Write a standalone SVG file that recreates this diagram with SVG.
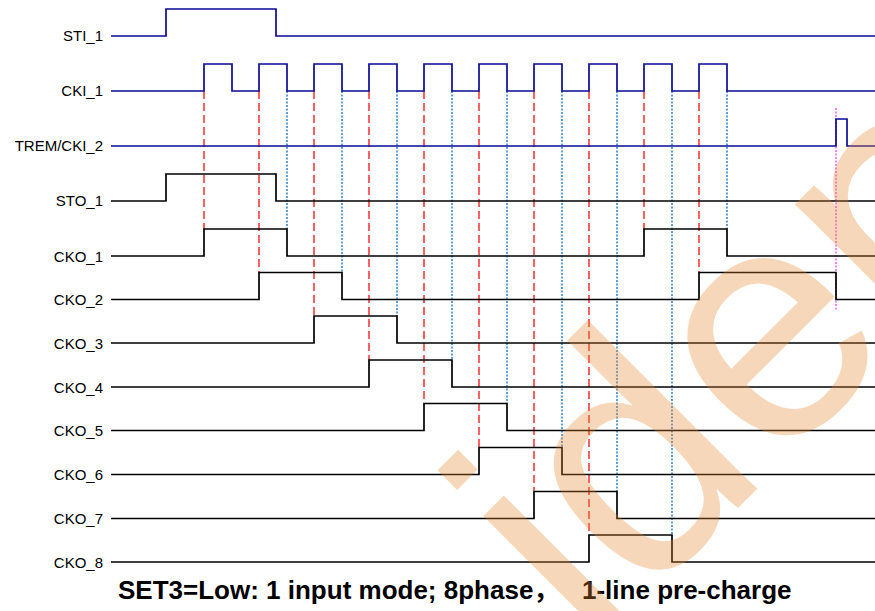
<svg xmlns="http://www.w3.org/2000/svg" width="875" height="611" viewBox="0 0 875 611">
<style>
.lbl{font-family:"Liberation Sans",Arial,sans-serif;font-size:15px;fill:#000;text-anchor:end}
.bsig{fill:none;stroke:#0A0A96;stroke-width:1.7}
.ksig{fill:none;stroke:#000;stroke-width:1.7}
.red{fill:none;stroke:#FF2020;stroke-width:1.4;stroke-dasharray:8 4}
.dot{fill:none;stroke:#1E78C8;stroke-width:1.4;stroke-dasharray:2 1.5}
.mag{fill:none;stroke:#FF66FF;stroke-width:1.6;stroke-dasharray:2 1.5}
.title{font-family:"Liberation Sans",Arial,"Noto Sans CJK SC",sans-serif;font-size:26px;font-weight:bold;fill:#000}
.wm{font-family:"Liberation Sans",Arial,sans-serif;font-size:330px;fill:#E8862A;opacity:0.32}
</style>
<rect width="875" height="611" fill="#fff"/>
<g id="connectors">
<path class="red" d="M204 91V229M259 91V273M314 91V316M369 91V360M424 91V403M479 91V447M534 91V491M589 91V535M644 91V229M699 91V273"/>
<path class="dot" d="M287 91V229M342 91V273M397 91V316M452 91V360M507 91V403M562 91V447M617 91V491M672 91V535M727 91V229"/>
<path class="mag" d="M836 108V310"/>
</g>
<g id="STI_1"><text class="lbl" x="103" y="41">STI_1</text><path class="bsig" d="M111 36H166V9H276V36H875"/></g>
<g id="CKI_1"><text class="lbl" x="103" y="96">CKI_1</text><path class="bsig" d="M111 91H204V64H232V91H259V64H287V91H314V64H342V91H369V64H397V91H424V64H452V91H479V64H507V91H534V64H562V91H589V64H617V91H644V64H672V91H699V64H727V91H875"/></g>
<g id="TREM_CKI_2"><text class="lbl" x="103" y="151">TREM/CKI_2</text><path class="bsig" d="M111 146H836V119H847V146H875"/></g>
<g id="STO_1"><text class="lbl" x="103" y="206">STO_1</text><path class="ksig" d="M111 201H166V174H276V201H875"/></g>
<g id="CKO_1"><text class="lbl" x="103" y="261.5">CKO_1</text><path class="ksig" d="M111 256H204V229H287V256H644V229H727V256H875"/></g>
<g id="CKO_2"><text class="lbl" x="103" y="305">CKO_2</text><path class="ksig" d="M111 299.5H259V272.5H342V299.5H699V272.5H836V299.5H875"/></g>
<g id="CKO_3"><text class="lbl" x="103" y="348.5">CKO_3</text><path class="ksig" d="M111 343H314V316H397V343H875"/></g>
<g id="CKO_4"><text class="lbl" x="103" y="392.5">CKO_4</text><path class="ksig" d="M111 387H369V360H452V387H875"/></g>
<g id="CKO_5"><text class="lbl" x="103" y="436">CKO_5</text><path class="ksig" d="M111 430.5H424V403.5H507V430.5H875"/></g>
<g id="CKO_6"><text class="lbl" x="103" y="480">CKO_6</text><path class="ksig" d="M111 474.5H479V447.5H562V474.5H875"/></g>
<g id="CKO_7"><text class="lbl" x="103" y="524">CKO_7</text><path class="ksig" d="M111 518.5H534V491.5H617V518.5H875"/></g>
<g id="CKO_8"><text class="lbl" x="103" y="567.5">CKO_8</text><path class="ksig" d="M111 562H589V535H672V562H875"/></g>
<text class="title" y="599"><tspan x="118">SET3=Low: 1 input mode; 8phase</tspan><tspan font-family="'Noto Sans CJK SC',sans-serif">，</tspan><tspan x="582">1-line pre-charge</tspan></text>
<text class="wm" transform="translate(591 655) rotate(-45)">iden</text>
</svg>
